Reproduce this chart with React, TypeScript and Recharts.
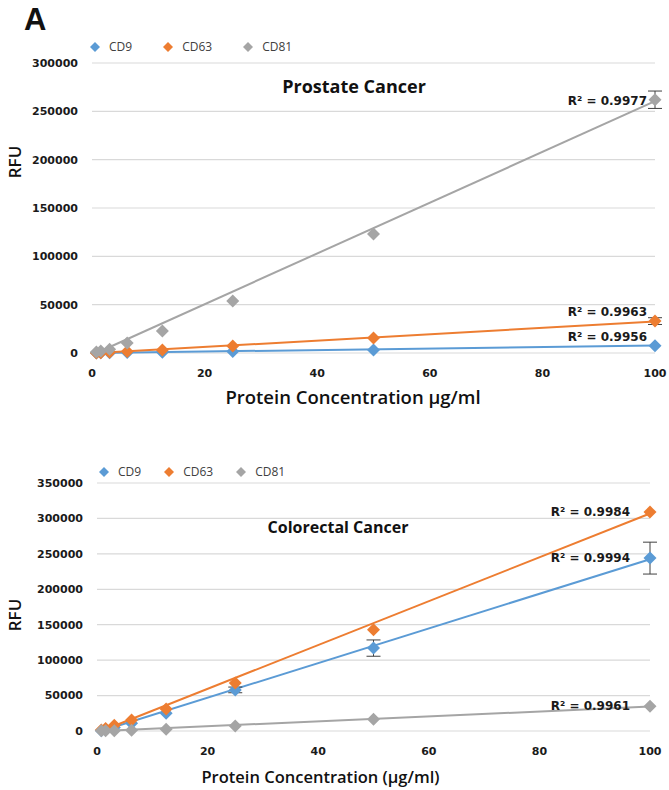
import React from 'react';
import {
  ComposedChart,
  Scatter,
  Line,
  XAxis,
  YAxis,
  CartesianGrid,
  ErrorBar,
  ReferenceDot,
} from 'recharts';

// ---- data ----
const concentrations = [0.78, 1.56, 3.125, 6.25, 12.5, 25, 50, 100];
const trendX = [0.78, 100];
const xTicks = [0, 20, 40, 60, 80, 100];

// Prostate cancer
const pcCD9 = [100, 200, 300, 400, 700, 1500, 3200, 7600];
const pcCD63 = [100, 300, 700, 1500, 3000, 7200, 15500, 33000];
const pcCD81 = [1000, 2000, 4000, 10300, 22700, 53800, 123000, 262000];
const pcCD9Err = [0, 0, 0, 0, 0, 0, 0, 0];
const pcCD63Err = [0, 0, 0, 0, 0, 0, 0, 3500];
const pcCD81Err = [0, 0, 0, 0, 0, 0, 0, 9000];
const pcTrendCD9 = [0, 7700];
const pcTrendCD63 = [0, 32500];
const pcTrendCD81 = [0, 260500];
const pcYTicks = [0, 50000, 100000, 150000, 200000, 250000, 300000];
const pcR2 = ['R² = 0.9956', 'R² = 0.9963', 'R² = 0.9977'];
const pcR2Anchor = [16500, 42400, 260700];

// Colorectal cancer
const crCD9 = [500, 2000, 5000, 11000, 25000, 58000, 117000, 244000];
const crCD63 = [1500, 3500, 8000, 15500, 31000, 67700, 143000, 309000];
const crCD81 = [200, 300, 500, 1200, 2500, 7000, 16500, 35000];
const crCD9Err = [0, 0, 0, 0, 0, 4000, 11500, 22500];
const crCD63Err = [0, 0, 0, 0, 0, 0, 0, 0];
const crCD81Err = [0, 0, 0, 0, 0, 0, 0, 0];
const crTrendCD9 = [0, 242500];
const crTrendCD63 = [0, 307000];
const crTrendCD81 = [0, 34500];
const crYTicks = [0, 50000, 100000, 150000, 200000, 250000, 300000, 350000];
const crR2 = ['R² = 0.9994', 'R² = 0.9984', 'R² = 0.9961'];
const crR2Anchor = [244000, 309000, 35300];

const seriesNames = ['CD9', 'CD63', 'CD81'];
const BLUE = '#5B9BD5';
const ORANGE = '#ED7D31';
const GRAY = '#A5A5A5';
const colors = [BLUE, ORANGE, GRAY];

const toPoints = (ys: number[], errs: number[]) =>
  concentrations.map((x, i) => ({ x, y: ys[i], err: errs[i] }));
const toTrend = (ys: number[]) => trendX.map((x, i) => ({ x, y: ys[i] }));

const diamond = (color: string) => (p: any) => {
  const { cx, cy } = p;
  if (cx == null || cy == null) return <g />;
  const r = 6.5;
  return (
    <polygon
      points={`${cx},${cy - r} ${cx + r},${cy} ${cx},${cy + r} ${cx - r},${cy}`}
      fill={color}
    />
  );
};

const tickStyle = {
  fontSize: 11,
  fontWeight: 'bold' as const,
  fill: '#1a1a1a',
  fontFamily: 'DejaVu Sans',
};

type PanelProps = {
  top: number;
  height: number;
  yAxisWidth: number;
  marginTop: number;
  marginRight: number;
  marginBottom: number;
  yMax: number;
  yTicks: number[];
  values: number[][];
  errs: number[][];
  trends: number[][];
  r2: string[];
  r2Anchor: number[];
  r2Offset: number;
};

const Panel = (p: PanelProps) => (
  <div style={{ position: 'absolute', left: 0, top: p.top }}>
    <ComposedChart
      width={669}
      height={p.height}
      margin={{ top: p.marginTop, right: p.marginRight, bottom: p.marginBottom, left: 0 }}
    >
      <CartesianGrid vertical={false} stroke="#D9D9D9" strokeWidth={1.2} />
      <XAxis
        type="number"
        dataKey="x"
        domain={[0, 100]}
        ticks={xTicks}
        axisLine={false}
        tickLine={false}
        tick={tickStyle}
        tickMargin={10}
        height={30}
      />
      <YAxis
        type="number"
        dataKey="y"
        domain={[0, p.yMax]}
        ticks={p.yTicks}
        axisLine={false}
        tickLine={false}
        tick={tickStyle}
        tickMargin={8}
        width={p.yAxisWidth}
      />
      {p.trends.map((t, i) => (
        <Line
          key={'t' + i}
          data={toTrend(t)}
          dataKey="y"
          stroke={colors[i]}
          strokeWidth={2}
          dot={false}
          activeDot={false}
          isAnimationActive={false}
          legendType="none"
        />
      ))}
      {p.values.map((v, i) => (
        <Scatter
          key={'s' + i}
          name={seriesNames[i]}
          data={toPoints(v, p.errs[i])}
          dataKey="y"
          fill={colors[i]}
          shape={diamond(colors[i])}
          isAnimationActive={false}
        >
          <ErrorBar dataKey="err" direction="y" width={7} stroke="#404040" strokeWidth={1} />
        </Scatter>
      ))}
      {p.r2.map((txt, i) => (
        <ReferenceDot
          key={'r' + i}
          x={100}
          y={p.r2Anchor[i]}
          r={0}
          fill="none"
          stroke="none"
          ifOverflow="visible"
          label={{
            value: txt,
            position: 'left',
            offset: p.r2Offset,
            fill: '#1a1a1a',
            fontSize: 12,
            fontWeight: 'bold',
            fontFamily: 'DejaVu Sans',
          }}
        />
      ))}
    </ComposedChart>
  </div>
);

const LegendRow = ({ left, top, gap }: { left: number; top: number; gap: number }) => (
  <div
    style={{
      position: 'absolute',
      left,
      top,
      display: 'flex',
      alignItems: 'center',
      fontFamily: 'Open Sans',
      fontSize: 12,
      color: '#404040',
      lineHeight: '16px',
      whiteSpace: 'nowrap',
    }}
  >
    {seriesNames.map((n, i) => (
      <div key={n} style={{ display: 'flex', alignItems: 'center', marginRight: gap }}>
        <svg width={10} height={10} style={{ marginRight: 9 }}>
          <polygon points="5,0 10,5 5,10 0,5" fill={colors[i]} />
        </svg>
        <span>{n}</span>
      </div>
    ))}
  </div>
);

const abs = (style: React.CSSProperties): React.CSSProperties => ({
  position: 'absolute',
  whiteSpace: 'nowrap',
  color: '#111',
  ...style,
});

export default function App() {
  return (
    <div
      style={{
        position: 'absolute',
        left: 0,
        top: 0,
        width: 669,
        height: 790,
        background: '#fff',
        overflow: 'hidden',
      }}
    >
      <Panel
        top={0}
        height={420}
        yAxisWidth={92}
        marginTop={63}
        marginRight={14}
        marginBottom={37}
        yMax={300000}
        yTicks={pcYTicks}
        values={[pcCD9, pcCD63, pcCD81]}
        errs={[pcCD9Err, pcCD63Err, pcCD81Err]}
        trends={[pcTrendCD9, pcTrendCD63, pcTrendCD81]}
        r2={pcR2}
        r2Anchor={pcR2Anchor}
        r2Offset={8}
      />
      <Panel
        top={420}
        height={370}
        yAxisWidth={97}
        marginTop={63}
        marginRight={19}
        marginBottom={29}
        yMax={350000}
        yTicks={crYTicks}
        values={[crCD9, crCD63, crCD81]}
        errs={[crCD9Err, crCD63Err, crCD81Err]}
        trends={[crTrendCD9, crTrendCD63, crTrendCD81]}
        r2={crR2}
        r2Anchor={crR2Anchor}
        r2Offset={20}
      />

      <div style={abs({ left: 24, top: 2, fontFamily: 'Liberation Sans', fontWeight: 'bold', fontSize: 31 })}>A</div>

      <LegendRow left={90} top={39} gap={31} />
      <LegendRow left={99} top={464} gap={23} />

      <div style={abs({ left: 0, width: 708, top: 74, textAlign: 'center', fontFamily: 'Open Sans', fontWeight: 'bold', fontSize: 18 })}>
        Prostate Cancer
      </div>
      <div style={abs({ left: 0, width: 676, top: 516, textAlign: 'center', fontFamily: 'Open Sans', fontWeight: 'bold', fontSize: 16 })}>
        Colorectal Cancer
      </div>

      <div style={abs({ left: 0, width: 706, top: 384, textAlign: 'center', fontFamily: 'Open Sans', fontWeight: 600, fontSize: 18.5 })}>
        Protein Concentration µg/ml
      </div>
      <div style={abs({ left: 0, width: 641, top: 765, textAlign: 'center', fontFamily: 'Open Sans', fontWeight: 600, fontSize: 16.5 })}>
        Protein Concentration (µg/ml)
      </div>

      <div style={abs({ left: 14, top: 162, transform: 'translate(-50%, -50%) rotate(-90deg)', fontFamily: 'Open Sans', fontWeight: 600, fontSize: 17 })}>
        RFU
      </div>
      <div style={abs({ left: 14, top: 615, transform: 'translate(-50%, -50%) rotate(-90deg)', fontFamily: 'Open Sans', fontWeight: 600, fontSize: 17 })}>
        RFU
      </div>
    </div>
  );
}
